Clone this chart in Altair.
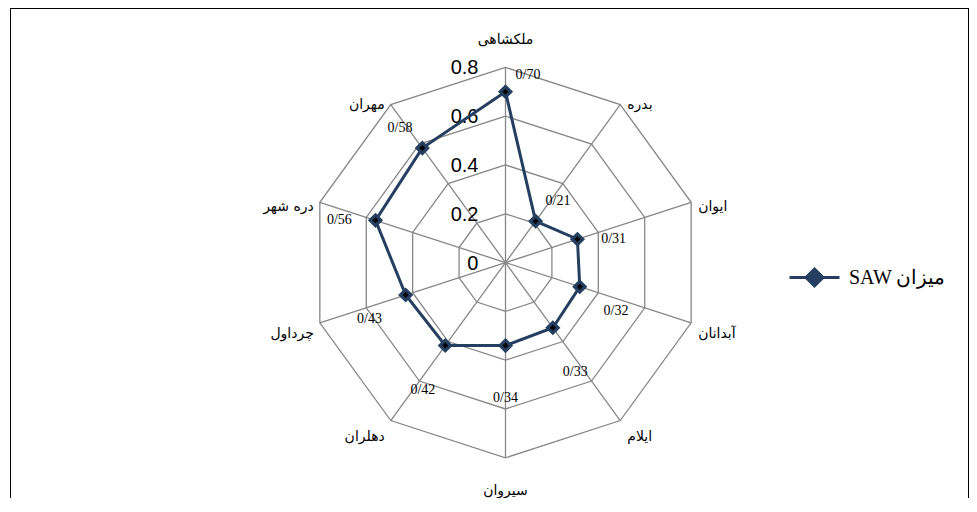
import altair as alt
import pandas as pd

# ---- data ----
categories = ["ملکشاهی", "بدره", "ایوان", "آبدانان", "ایلام",
              "سیروان", "دهلران", "چرداول", "دره شهر", "مهران"]
values = [0.70, 0.21, 0.31, 0.32, 0.33, 0.34, 0.42, 0.43, 0.56, 0.58]
grid_levels = [0.2, 0.4, 0.6, 0.8]
tick_levels = [0, 0.2, 0.4, 0.6, 0.8]
tick_labels = ["0", "0.2", "0.4", "0.6", "0.8"]
series_name = "SAW میزان"

N = len(categories)
R_MAX = max(grid_levels)
NAVY = "#243F60"
GRID = "#878787"

W, H, PB = 959, 486, 4

df = pd.DataFrame({"cat": categories, "v": values, "i": list(range(N)), "name": series_name})
line_df = pd.concat([df, df.iloc[[0]].assign(i=N)], ignore_index=True)
ring_df = pd.DataFrame([{"level": l, "i": k} for l in grid_levels for k in range(N + 1)])
spoke_df = pd.DataFrame({"i": list(range(N))})
tick_df = pd.DataFrame({"level": tick_levels, "label": tick_labels})

ANG = f"(2*PI*datum.i/{N})"

xs = alt.Scale(domain=[-2.0307, 1.8996], nice=False, zero=False)
ys = alt.Scale(domain=[-0.9484, 1.0434], nice=False, zero=False)


def X(f):
    return alt.X(f, type="quantitative", scale=xs, axis=None)


def Y(f):
    return alt.Y(f, type="quantitative", scale=ys, axis=None)


rings = alt.Chart(ring_df).transform_calculate(
    x=f"datum.level*sin({ANG})", y=f"datum.level*cos({ANG})"
).mark_line(color=GRID, strokeWidth=1.3).encode(
    x=X("x"), y=Y("y"), detail="level:N", order="i:Q"
)

spokes = alt.Chart(spoke_df).transform_calculate(
    x0="0", y0="0", x1=f"{R_MAX}*sin({ANG})", y1=f"{R_MAX}*cos({ANG})"
).mark_rule(color=GRID, strokeWidth=1.3).encode(
    x=X("x0"), y=Y("y0"), x2="x1:Q", y2="y1:Q"
)

ticks = alt.Chart(tick_df).transform_calculate(x0="0").mark_text(
    align="right", baseline="middle", dx=-27, dy=1, fontSize=20,
    font="Liberation Sans", color="black"
).encode(x=X("x0"), y=Y("level"), text="label:N")

series = alt.Chart(line_df).transform_calculate(
    x=f"datum.v*sin({ANG})", y=f"datum.v*cos({ANG})"
).mark_line(strokeWidth=3).encode(
    x=X("x"), y=Y("y"), order="i:Q",
    color=alt.Color("name:N", scale=alt.Scale(domain=[series_name], range=[NAVY]),
                    legend=alt.Legend(
                        title=None, orient="none", legendX=778, legendY=243,
                        symbolType="M-1,0H1M0,-0.34L0.34,0L0,0.34L-0.34,0Z",
                        symbolSize=2500, symbolStrokeWidth=3,
                        symbolStrokeColor=NAVY, symbolFillColor=NAVY,
                        labelFont="Liberation Serif", labelFontSize=20,
                        labelColor="black", labelLimit=300, labelOffset=8)),
)

pts = alt.Chart(df).transform_calculate(
    x=f"datum.v*sin({ANG})", y=f"datum.v*cos({ANG})"
)
markers = pts.mark_point(shape="diamond", filled=True, size=230, color=NAVY, opacity=1).encode(
    x=X("x"), y=Y("y"))
centers = pts.mark_point(shape="diamond", filled=True, size=36, color="black", opacity=1).encode(
    x=X("x"), y=Y("y"))

dlabels = alt.Chart(df).transform_calculate(
    lbl="replace(format(datum.v, '.2f'), '.', '/')",
    x=f"(datum.v+0.156)*sin({ANG}) + (datum.i == 0 ? 0.092 : 0)",
    y=f"(datum.v+0.164)*cos({ANG}) - 0.049 - (datum.i == 0 ? 0.046 : 0)",
).mark_text(align="center", baseline="middle", fontSize=14,
            font="Liberation Serif", color="black").encode(
    x=X("x"), y=Y("y"), text="lbl:N")

cat_base = alt.Chart(df).transform_calculate(s=f"sin({ANG})", c=f"cos({ANG})")

cat_right = cat_base.transform_filter("datum.s > 0.1").transform_calculate(
    x=f"{R_MAX}*datum.s", y="0.841*datum.c - 0.033"
).mark_text(align="left", baseline="middle", dx=7, fontSize=14,
            font="DejaVu Sans", color="black").encode(x=X("x"), y=Y("y"), text="cat:N")

cat_left = cat_base.transform_filter("datum.s < -0.1").transform_calculate(
    x=f"{R_MAX}*datum.s", y="0.841*datum.c - 0.033"
).mark_text(align="right", baseline="middle", dx=-6, fontSize=14,
            font="DejaVu Sans", color="black").encode(x=X("x"), y=Y("y"), text="cat:N")

cat_mid = cat_base.transform_filter("abs(datum.s) <= 0.1").transform_calculate(
    x=f"{R_MAX}*datum.s", y="0.9235*datum.c - 0.0115"
).mark_text(align="center", baseline="middle", fontSize=14,
            font="DejaVu Sans", color="black").encode(x=X("x"), y=Y("y"), text="cat:N")

# chart frame (left, top, right edges; the bottom edge lies below the window)
frame_left = alt.Chart(df).mark_rule(color="black", strokeWidth=1).encode(
    x=alt.value(0.5), y=alt.value(0), y2=alt.value(H + PB))
frame_top = alt.Chart(df).mark_rule(color="black", strokeWidth=1).encode(
    x=alt.value(0), x2=alt.value(W), y=alt.value(0.5))
frame_right = alt.Chart(df).mark_rule(color="black", strokeWidth=1).encode(
    x=alt.value(W - 0.5), y=alt.value(0), y2=alt.value(H + PB))

chart = alt.layer(
    rings, spokes, ticks, series, markers, centers, dlabels,
    cat_right, cat_left, cat_mid, frame_left, frame_top, frame_right
).properties(
    width=W, height=H,
    padding={"left": 2, "top": 0, "right": 0, "bottom": PB},
    autosize=alt.AutoSizeParams(type="none"),
).configure_view(stroke=None)

chart.save("out.html", embed_options={"renderer": "svg", "actions": False})
